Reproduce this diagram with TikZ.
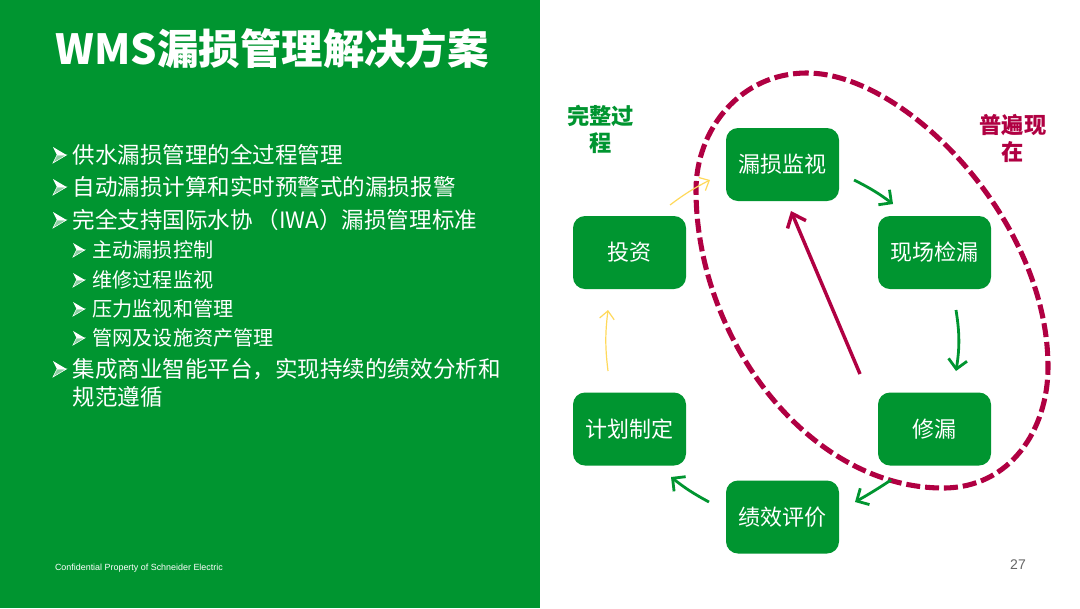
\documentclass[tikz,border=0pt]{standalone}
\usepackage{fontspec}
\usetikzlibrary{arrows.meta}
\setmainfont{Noto Sans CJK SC}
\newfontfamily\footfont{Liberation Sans}
\definecolor{sgreen}{RGB}{0,149,48}
\definecolor{crimson}{RGB}{176,0,66}
\definecolor{softyellow}{RGB}{255,217,90}
\tikzset{every picture/.style={line width=0.75pt},
  stepbox/.style={fill=sgreen,text=white,rounded corners=9pt,minimum width=84.75pt,minimum height=54.75pt,inner sep=0pt,font=\fontsize{16.5}{20}\selectfont},
  titletext/.style={anchor=west,inner sep=0pt,text=white,font=\fontsize{31.1}{36}\selectfont\bfseries},
  lvlone/.style={anchor=west,inner sep=0pt,text=white,font=\fontsize{16.9}{20}\selectfont},
  lvltwo/.style={anchor=west,inner sep=0pt,text=white,font=\fontsize{15.1}{18}\selectfont},
  sidetext/.style={align=center,inner sep=0pt,font=\fontsize{16.7}{20.25}\selectfont\bfseries},
  flow/.style={draw=sgreen,line width=2.1pt,-{Straight Barb[length=7pt,width=14pt,line width=2.1pt]}},
  thinflow/.style={draw=softyellow,line width=0.9pt,-{Straight Barb[length=6pt,width=11pt,line width=0.9pt]}},
  bulletmark/.pic={
    \fill [white!55!sgreen,draw=white,line width=0.4pt] (0,-8) -- (13.5,0) -- (4,0) -- cycle;
    \fill [white] (0,8) -- (13.5,0) -- (4,0) -- cycle;
  }
}
\begin{document}
\begin{tikzpicture}[x=0.75pt,y=0.75pt,yscale=-1,xscale=1]
%set diagram size
\path [use as bounding box,fill=white] (0,0) rectangle (1080,608);

%Green panel
\fill [sgreen] (0,0) rectangle (540,608);

% Text Node
\node [titletext] (title) at (55,48.5) {WMS漏损管理解决方案};
% Text Node
\node [lvlone] (itema) at (72,155) {供水漏损管理的全过程管理};
\node [lvlone] (itemb) at (72,187) {自动漏损计算和实时预警式的漏损报警};
\node [lvlone] (itemc) at (72,220) {完全支持国际水协\hspace{3pt}（IWA）漏损管理标准};
\node [lvltwo] (suba) at (92,250) {主动漏损控制};
\node [lvltwo] (subb) at (92,280) {维修过程监视};
\node [lvltwo] (subc) at (92,309) {压力监视和管理};
\node [lvltwo] (subd) at (92,338) {管网及设施资产管理};
\node [lvlone] (itemd) at (72,369) {集成商业智能平台，实现持续的绩效分析和};
\node [lvlone] (iteme) at (72,397) {规范遵循};
% Text Node
\node [anchor=west,inner sep=0pt,text=white,font=\footfont\fontsize{6.7}{8}\selectfont] (footer) at (54.5,568) {Confidential Property of Schneider Electric};
\node [inner sep=0pt,text=black!60,font=\footfont\fontsize{10.5}{12}\selectfont] (pagenum) at (1018,565) {27};

%List marks
\foreach \y in {155,187,220,369}
  \pic at (53,\y) {bulletmark};
\foreach \y in {250,280,309,338}
  \pic [scale=0.88] at (73,\y) {bulletmark};

%Step boxes
\node [stepbox] (monitor) at (782.5,164.5) {漏损监视};
\node [stepbox] (field) at (934.5,252.5) {现场检漏};
\node [stepbox] (repair) at (934.5,429) {修漏};
\node [stepbox] (perf) at (782.5,517) {绩效评价};
\node [stepbox] (plan) at (629.5,429) {计划制定};
\node [stepbox] (invest) at (629.5,252.5) {投资};

% Text Node
\node [sidetext,text=sgreen] (wholelabel) at (600.5,129.5) {完整过\\程};
\node [sidetext,text=crimson] (widelabel) at (1013,138) {普遍现\\在};

%Dashed loop
\draw [crimson,line width=3.8pt,dash pattern={on 10.5pt off 3.7pt}] (807,73) .. controls (740,73) and (696,130) .. (696,190) .. controls (696,340) and (810,488) .. (943,488) .. controls (1010,488) and (1048,430) .. (1048,367) .. controls (1048,220) and (905,73) .. (807,73) -- cycle;

%Connector ends
\coordinate (monitorout) at (854,180);
\coordinate (fieldin) at (893,204);
\coordinate (fieldout) at (956,310);
\coordinate (repairin) at (956,371);
\coordinate (repairout) at (891,480);
\coordinate (perfin) at (855,502);
\coordinate (perfout) at (709,502);
\coordinate (planin) at (671,477);
\coordinate (planout) at (608,371);
\coordinate (investin) at (608,310);
\coordinate (investout) at (670,205);
\coordinate (monitorin) at (710,180);
\coordinate (repairback) at (860,374);
\coordinate (monitorback) at (791,211);

%Curve Lines
\draw [flow] (monitorout) to [bend right=5] (fieldin);
\draw [flow] (fieldout) to [bend right=9] (repairin);
\draw [flow] (repairout) to [bend right=2] (perfin);
\draw [flow] (perfout) to [bend right=5] (planin);
\draw [thinflow] (planout) to [bend right=7] (investin);
\draw [thinflow] (investout) to [bend right=5] (monitorin);
%Straight Lines
\draw [crimson,line width=2.6pt,-{Straight Barb[length=9pt,width=15pt,line width=2.6pt]}] (repairback) -- (monitorback);

\end{tikzpicture}
\end{document}
